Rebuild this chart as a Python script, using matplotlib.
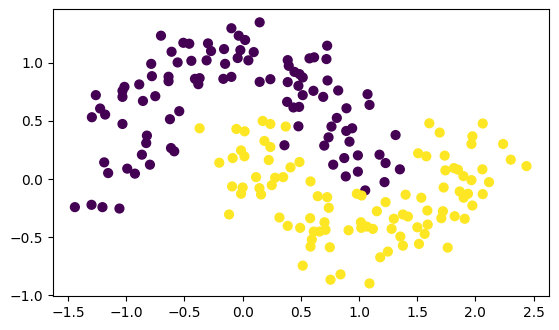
import numpy as np
from matplotlib import pyplot as plt

# class 0 (upper moon)
X0 = [-0.702, -0.611, -0.786, -0.780, -0.637, -0.637, -0.889, -1.016, -1.033, -1.033,
      -1.262, -0.857, -0.751, -1.225, -1.182, -1.296, -1.033, -0.625, -0.823, -0.829,
      -0.616, -0.559, -0.545, -0.866, -0.797, -1.190, -1.156, -0.992, -0.926, -0.588,
      -1.442, -1.299, -1.205, -1.059, 0.146, -0.097, -0.034, 0.021, -0.510, -0.459,
      -0.298, -0.272, -0.160, -0.020, 0.095, -0.441, -0.310, -0.151, -0.043, 0.049,
      0.387, 0.396, 0.445, 0.488, -0.410, -0.370, -0.381, -0.166, -0.097, 0.146,
      0.238, 0.387, 0.479, 0.516, 0.382, 0.436, 0.485, 0.479, 0.359, 0.726,
      0.574, 0.614, 0.720, 0.516, 0.729, 0.608, 0.692, 0.821, 1.073, 1.090,
      0.892, 0.809, 0.763, 0.890, 0.941, 0.738, 0.918, 0.701, 1.314, 0.990,
      1.176, 1.228, 0.873, 0.778, 0.886, 0.990, 1.219, 1.351, 1.053]
Y0 = [1.233, 1.095, 0.991, 0.885, 0.880, 0.842, 0.814, 0.793, 0.759, 0.707,
      0.722, 0.672, 0.713, 0.607, 0.555, 0.532, 0.474, 0.515, 0.374, 0.310,
      0.267, 1.003, 0.584, 0.210, 0.124, 0.144, 0.052, 0.090, 0.047, 0.239,
      -0.241, -0.221, -0.241, -0.253, 1.348, 1.297, 1.233, 1.196, 1.172, 1.164,
      1.167, 1.101, 1.118, 1.109, 1.092, 1.017, 1.021, 0.991, 1.041, 1.021,
      1.023, 0.974, 0.922, 0.903, 0.862, 0.868, 0.816, 0.862, 0.879, 0.836,
      0.859, 0.834, 0.802, 0.722, 0.664, 0.616, 0.621, 0.454, 0.291, 1.147,
      1.038, 1.047, 1.032, 0.874, 0.848, 0.759, 0.707, 0.762, 0.730, 0.638,
      0.609, 0.526, 0.452, 0.414, 0.437, 0.359, 0.322, 0.288, 0.379, 0.204,
      0.210, 0.138, 0.181, 0.124, 0.023, 0.064, -0.026, 0.084, -0.097]

# class 1 (lower moon)
X1 = [-0.370, -0.054, 0.017, 0.172, 0.238, 0.370, 0.187, 0.238, -0.014, 1.604,
      1.508, 1.693, 2.063, 1.974, 1.966, 2.238, -0.201, -0.086, 0.015, 0.224,
      0.488, 0.411, 0.115, 0.279, 0.348, -0.091, 0.000, -0.014, 0.144, 0.158,
      0.250, -0.117, 0.316, 0.387, 0.494, 0.516, 0.583, 1.578, 0.645, 0.726,
      0.740, 0.981, 1.022, 1.400, 1.535, 1.587, 1.228, 1.153, 0.580, 0.703,
      0.611, 0.660, 0.712, 0.594, 0.583, 0.749, 0.910, 1.016, 1.019, 1.067,
      1.119, 1.299, 1.377, 1.420, 1.280, 1.355, 1.377, 1.501, 1.564, 1.590,
      1.515, 1.248, 1.182, 0.755, 0.841, 1.090, 1.736, 2.304, 2.439, 1.742,
      1.816, 1.850, 1.897, 1.966, 2.060, 2.117, 1.727, 1.865, 1.936, 1.899,
      2.063, 1.974, 1.721, 1.707, 1.822, 1.908, 1.762]
Y1 = [0.437, 0.431, 0.411, 0.500, 0.474, 0.452, 0.328, 0.276, 0.247, 0.480,
      0.222, 0.400, 0.478, 0.368, 0.302, 0.302, 0.141, 0.181, 0.196, 0.164,
      0.147, 0.101, 0.017, 0.012, 0.017, -0.063, -0.072, -0.126, -0.078, -0.132,
      -0.052, -0.304, -0.330, -0.402, -0.419, -0.744, -0.020, 0.196, -0.147, -0.155,
      -0.247, -0.126, -0.141, -0.134, -0.160, -0.270, -0.198, -0.276, -0.336, -0.371,
      -0.451, -0.451, -0.436, -0.520, -0.580, -0.586, -0.440, -0.371, -0.419, -0.408,
      -0.428, -0.341, -0.304, -0.322, -0.428, -0.494, -0.572, -0.414, -0.471, -0.391,
      -0.557, -0.623, -0.672, -0.865, -0.819, -0.897, 0.202, 0.167, 0.112, 0.075,
      0.095, 0.081, 0.026, -0.009, 0.084, -0.026, -0.072, -0.106, -0.126, -0.160,
      -0.129, -0.227, -0.276, -0.336, -0.319, -0.341, -0.589]

X = np.array(X0 + X1)
Y = np.array(Y0 + Y1)
labels = np.array([0] * len(X0) + [1] * len(X1))

fig = plt.figure(figsize=(5.59, 3.30), dpi=100)
ax = fig.add_axes([53.0 / 559, 1 - 296.0 / 330, 496.3 / 559, 286.7 / 330])
ax.scatter(X, Y, c=labels, s=40, cmap='viridis')
ax.set_xlim(-1.63, 2.635)
ax.set_ylim(-1.005, 1.46)

fig.savefig('out.png', dpi=100)
